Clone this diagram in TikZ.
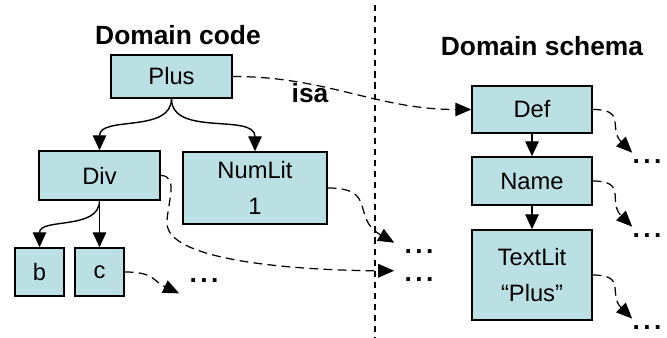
\documentclass[tikz,border=0pt]{standalone}
\usepackage{fontspec}
\setmainfont{Liberation Sans}
\usetikzlibrary{arrows.meta}
\definecolor{boxfill}{RGB}{187,224,227}
\newcommand{\moredots}{.\kern.13em.\kern.13em.}

\begin{document}
\begin{tikzpicture}[
	box/.style={draw,line width=0.8pt,fill=boxfill,align=center,inner sep=0pt,
		font=\fontsize{13.5}{20.5}\selectfont},
	title/.style={font=\fontsize{15}{18}\selectfont\bfseries},
	child/.style={line width=0.8pt,-{Triangle[length=0.3cm,width=0.27cm]}},
	link/.style={line width=0.7pt,dash pattern=on 5pt off 3pt,-{Triangle[length=0.32cm,width=0.27cm]}},
	etc/.style={font=\fontsize{15}{18}\selectfont\bfseries,inner ysep=0pt,text height=0.45cm,text depth=0pt}]
	\useasboundingbox (0,0) rectangle (13.34,6.76);
	% separator between the two sides
	\draw[line width=0.8pt,dash pattern=on 3.5pt off 2.8pt] (7.5,6.66) -- (7.5,0);
	\node[title] (code) at (3.56,6.06) {Domain code};
	\node[title] (schema) at (10.84,5.84) {Domain schema};
	% domain code tree
	\node[box,minimum width=2.42cm,minimum height=0.86cm] (plus) at (3.43,5.23) {Plus};
	\node[box,minimum width=2.42cm,minimum height=0.98cm] (div) at (1.99,3.25) {Div};
	\node[box,minimum width=2.88cm,minimum height=1.44cm] (numlit) at (5.10,3.00) {NumLit\\1};
	\node[box,minimum width=0.98cm,minimum height=0.96cm] (b) at (0.79,1.32) {b};
	\node[box,minimum width=0.98cm,minimum height=0.96cm] (c) at (1.99,1.32) {c};
	% domain schema chain
	\node[box,minimum width=2.4cm,minimum height=0.94cm] (def) at (10.64,4.57) {Def};
	\node[box,minimum width=2.4cm,minimum height=0.96cm] (name) at (10.64,3.14) {Name};
	\node[box,minimum width=2.4cm,minimum height=1.8cm] (textlit) at (10.64,1.26) {TextLit\\“Plus”};
	% dots
	\node[etc,inner xsep=0.2cm] (cd) at (4.08,1.325) {\moredots};
	\node[etc,inner xsep=0.2cm] (nd) at (8.38,1.905) {\moredots};
	\node[etc,inner xsep=0.2cm] (dd) at (8.38,1.345) {\moredots};
	\node[etc,inner xsep=0pt] (fd) at (12.94,3.705) {\moredots};
	\node[etc,inner xsep=0pt] (md) at (12.94,2.225) {\moredots};
	\node[etc,inner xsep=0pt] (td) at (12.94,0.385) {\moredots};
	\coordinate (dbend) at (3.34,2.3);
	% tree edges
	\draw[child] (plus.south) to[out=-90,in=90] (div.north);
	\draw[child] (plus.south) to[out=-90,in=90] (numlit.north);
	\draw[child] (div.south) to[out=-90,in=90] (b.north);
	\draw[child] (div.south) -- (c.north);
	\draw[child] (def) -- (name);
	\draw[child] (name) -- (textlit);
	% dashed links
	\draw[link] (plus.east) to[out=0,in=180] (def.west);
	\node[title] (isa) at (6.2,4.9) {isa};
	\draw[link] (c.east) to[out=0,in=155,looseness=1.3] ([yshift=-2mm]cd.south west);
	\draw[link] (numlit.east) to[out=0,in=150,looseness=1.5] (nd.west);
	\draw[link] (div.east) to[out=0,in=90] (dbend) to[out=-90,in=180,looseness=0.5] (dd.west);
	\draw[link] (def.east) to[out=0,in=135,looseness=1.5] (fd.west);
	\draw[link] (name.east) to[out=0,in=135,looseness=1.5] (md.west);
	\draw[link] (textlit.east) to[out=0,in=135,looseness=1.5] (td.west);
\end{tikzpicture}
\end{document}
